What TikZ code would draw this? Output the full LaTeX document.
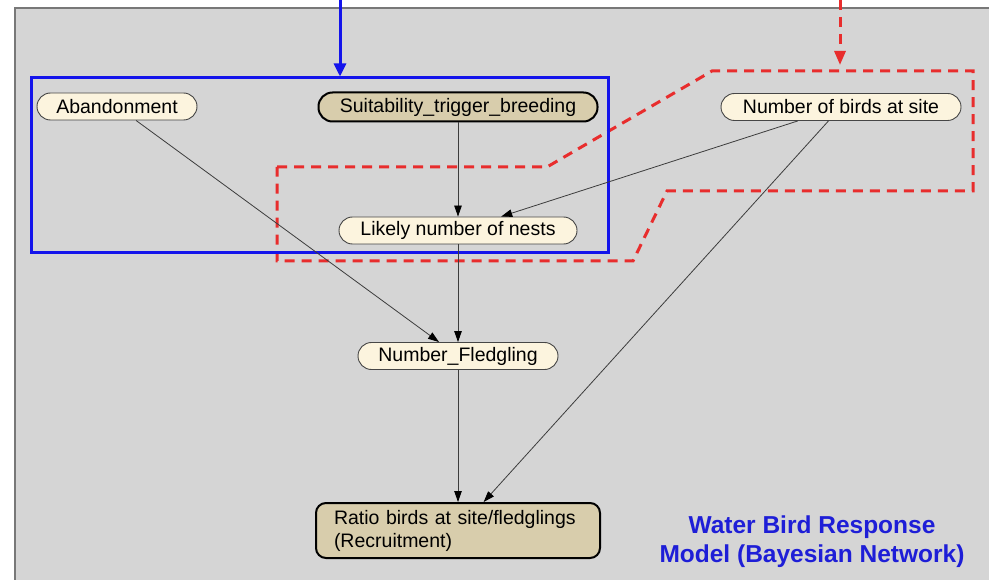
\documentclass[tikz,border=0pt]{standalone}
\usepackage{fontspec}
\setmainfont{Liberation Sans}
\usetikzlibrary{arrows.meta}

\definecolor{panelfill}{RGB}{213,213,213}
\definecolor{panelline}{RGB}{120,120,120}
\definecolor{creamfill}{RGB}{252,244,222}
\definecolor{tanfill}{RGB}{216,205,172}
\definecolor{nodeline}{RGB}{70,70,70}
\definecolor{edgegray}{RGB}{60,60,60}
\definecolor{groupblue}{RGB}{20,20,235}
\definecolor{groupred}{RGB}{232,45,45}
\definecolor{titleblue}{RGB}{30,30,215}

\newcommand{\nodefont}{\fontsize{19.5}{23}\selectfont}
\newcommand{\titlefont}{\bfseries\fontsize{24.5}{29}\selectfont}

\tikzset{
  creamnode/.style={draw=nodeline, line width=0.9pt, fill=creamfill,
    rounded corners=13.5pt, minimum height=27pt, inner sep=0pt, font=\nodefont},
  tannode/.style={draw=black, line width=2pt, fill=tanfill,
    rounded corners=14pt, minimum height=29pt, inner sep=0pt, font=\nodefont},
  ratiobox/.style={draw=black, line width=2pt, fill=tanfill,
    rounded corners=10pt, minimum height=55pt, text width=248pt,
    inner xsep=18pt, inner ysep=0pt, align=left, font=\nodefont},
  link/.style={draw=edgegray, line width=0.8pt,
    -{Triangle[length=11pt,width=7.5pt,color=black]}},
  bluegroup/.style={draw=groupblue, line width=3pt, inner sep=0pt},
  redgroup/.style={draw=groupred, line width=3pt, dash pattern=on 10pt off 7pt},
}

\begin{document}
\begin{tikzpicture}[x=1pt,y=-1pt]
  \useasboundingbox (0,0) rectangle (989,580);
  \fill[white] (0,0) rectangle (989,580);

  % grey canvas with its frame
  \fill[panelfill] (15,8) rectangle (989,580);
  \draw[panelline, line width=1.8pt] (15,580) -- (15,8) -- (989,8);

  % red dashed group outline
  \draw[redgroup] (277,167) -- (547,167) -- (712,71) -- (973,71)
    -- (973,191) -- (667,191) -- (633,261) -- (277,261) -- cycle;

  % blue group frame
  \node[bluegroup, minimum width=577pt, minimum height=175pt] (grp) at (319.5,165.5) {};

  % incoming group arrows
  \coordinate (bluesrc) at (340,0);
  \draw[groupblue, line width=3pt, -{Triangle[length=13pt,width=12pt]}]
    (bluesrc) -- (bluesrc |- grp.north);
  \coordinate (redsrc) at (840,0);
  \coordinate (redtip) at (840,65);
  \draw[groupred, line width=3pt, dash pattern=on 10pt off 7pt,
        -{Triangle[length=14pt,width=11pt]}] (redsrc) -- (redtip);

  % network nodes
  \node[creamnode, minimum width=160pt] (ab) at (117,106.5) {Abandonment};
  \node[tannode, minimum width=279pt] (st) at (458,107) {Suitability\_trigger\_breeding};
  \node[creamnode, minimum width=240pt] (nb) at (841,107) {Number of birds at site};
  \node[creamnode, minimum width=238pt] (ln) at (458,230.5) {Likely number of nests};
  \node[creamnode, minimum width=200pt] (nf) at (458,356) {Number\_Fledgling};
  \node[ratiobox, minimum width=284pt] (rt) at (458,530.5)
    {Ratio birds at site/fledglings\\(Recruitment)};

  % dependencies
  \draw[link] (st) -- (ln);
  \draw[link] (nb) -- (ln);
  \draw[link] (ab) -- (nf);
  \draw[link] (ln) -- (nf);
  \draw[link] (nf) -- (rt);
  \draw[link] (nb) -- (rt);

  % caption
  \node[font=\titlefont, text=titleblue, align=center] (title) at (812,542)
    {Water Bird Response\\Model (Bayesian Network)};
\end{tikzpicture}
\end{document}
